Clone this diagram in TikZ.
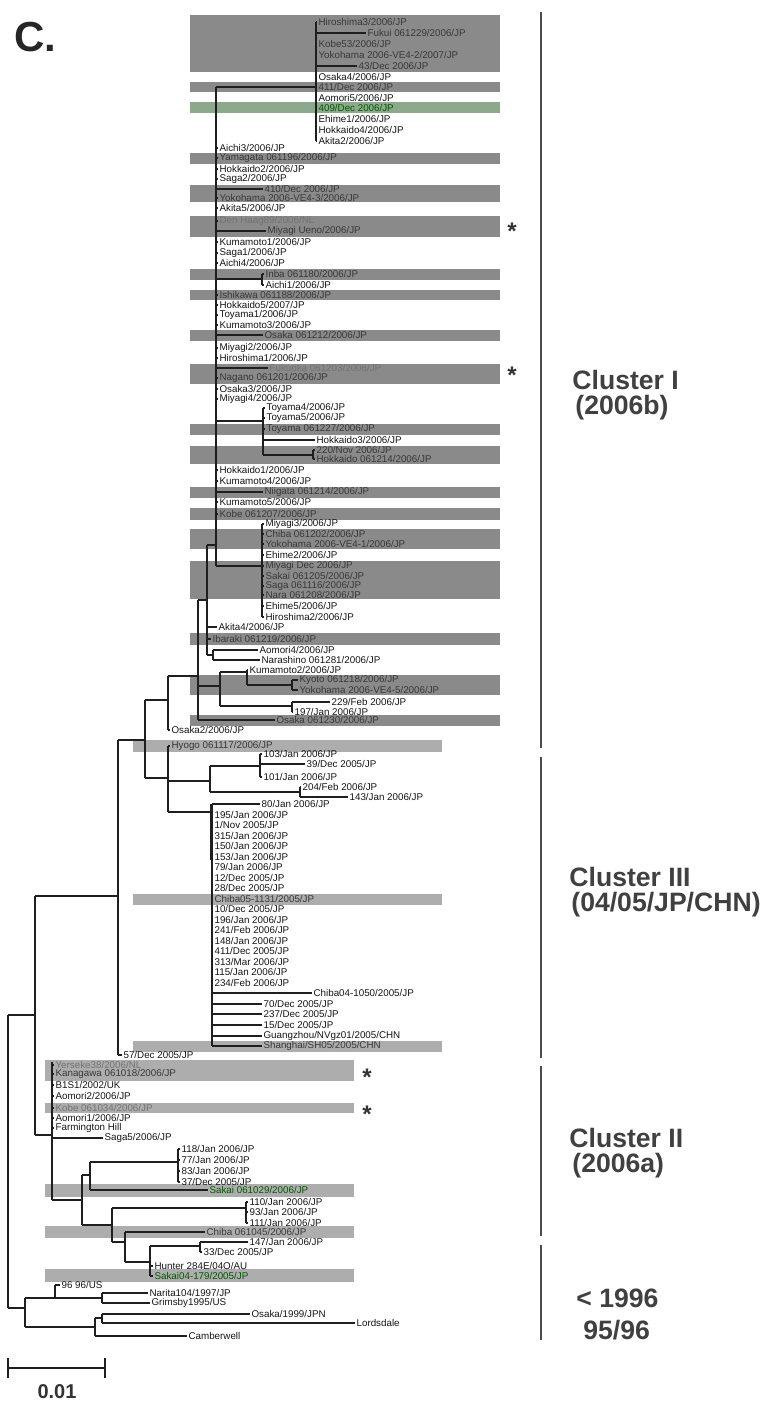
\documentclass[tikz,border=0pt]{standalone}
\usepackage{fontspec}
\setmainfont{Liberation Sans}
\newcommand\Lf[6][lab]{\node[#1] (#2) at (#4,#5) {#6};\draw[br] (#3,#5) -- (#2.west);}
\newcommand\Vt[4][br]{\draw[#1] (#2,#3) -- (#2,#4);}
\newcommand\Hz[4][br]{\draw[#1] (#2,#4) -- (#3,#4);}
\begin{document}
\begin{tikzpicture}[x=0.5pt,y=-0.5pt,
  br/.style={line width=0.65pt,black!88},
  bb/.style={line width=1.2pt,black!88},
  lab/.style={anchor=west,inner xsep=0.6pt,inner ysep=0pt,font=\fontsize{4.9}{5}\selectfont,text=black!92},
  shd/.style={lab,text=black!78},
  shl/.style={lab,text=black!55},
  shg/.style={lab,text=green!35!black},
  bar/.style={fill=black!46},
  barg/.style={fill=green!25!black!45},
  barl/.style={fill=black!32},
  clu/.style={anchor=west,font=\bfseries\fontsize{13.3}{14}\selectfont,text=black!75,inner sep=0pt},
  cline/.style={line width=1.3pt,black!70},
  star/.style={font=\bfseries\fontsize{12}{12}\selectfont,text=black!80,inner sep=0pt}]
\useasboundingbox (0,0) rectangle (765,1403);
% ---------------- shaded bars
\foreach \a/\b in {15/72,82/92,153/164,185/202,216/237,269/280,290/300,330/341,364/384,424/435,446/464,487/498,508/520,529/549,561/599,633/645,675/695,715/726}
  \fill[bar] (190,\a) rectangle (500,\b);
\fill[barg] (190,102) rectangle (500,113);
\foreach \a/\b in {740/752,894/905,1041/1052}
  \fill[barl] (133,\a) rectangle (442,\b);
\foreach \a/\b in {1060/1081,1103/1113,1184/1197,1226/1238,1269/1282}
  \fill[barl] (45,\a) rectangle (354,\b);
% ---------------- title
\node[anchor=north west,inner sep=0pt,font=\bfseries\fontsize{21}{21}\selectfont,text=black!85] (title) at (14,22) {C.};
% ---------------- Cluster I, top comb
\Hz{216}{316}{87}
\Vt[bb]{316}{22}{141}
\Lf[shd]{t1}{316}{317}{22}{Hiroshima3/2006/JP}
\Lf[shd]{t2}{316}{366}{33}{Fukui 061229/2006/JP}
\Lf[shd]{t3}{316}{317}{44}{Kobe53/2006/JP}
\Lf[shd]{t4}{316}{317}{55}{Yokohama 2006-VE4-2/2007/JP}
\Lf[shd]{t5}{316}{357}{66}{43/Dec 2006/JP}
\Lf{t6}{316}{317}{77}{Osaka4/2006/JP}
\Lf[shd]{t7}{316}{317}{87}{411/Dec 2006/JP}
\Lf{t8}{316}{317}{98}{Aomori5/2006/JP}
\Lf[shg]{t9}{316}{317}{108}{409/Dec 2006/JP}
\Lf{t10}{316}{317}{119}{Ehime1/2006/JP}
\Lf{t11}{316}{317}{130}{Hokkaido4/2006/JP}
\Lf{t12}{316}{317}{141}{Akita2/2006/JP}
% ---------------- Cluster I backbone
\Vt[bb]{216}{87}{566}
\Lf{b1}{216}{218}{148}{Aichi3/2006/JP}
\Lf[shd]{b2}{216}{218}{158}{Yamagata 061196/2006/JP}
\Lf{b3}{216}{218}{169}{Hokkaido2/2006/JP}
\Lf{b4}{216}{218}{179}{Saga2/2006/JP}
\Lf[shd]{b5}{216}{263}{189}{410/Dec 2006/JP}
\Lf[shd]{b6}{216}{218}{198}{Yokohama 2006-VE4-3/2006/JP}
\Lf{b7}{216}{218}{208}{Akita5/2006/JP}
\Lf[shl]{b8}{216}{218}{221}{Den Haag89/2006/NL}
\Lf[shd]{b9}{216}{266}{231}{Miyagi Ueno/2006/JP}
\Lf{b10}{216}{218}{242}{Kumamoto1/2006/JP}
\Lf{b11}{216}{218}{253}{Saga1/2006/JP}
\Lf{b12}{216}{218}{263}{Aichi4/2006/JP}
\Hz{216}{262}{279}
\Vt{262}{274}{285}
\Lf[shd]{b13}{262}{264}{274}{Inba 061180/2006/JP}
\Lf{b14}{262}{264}{285}{Aichi1/2006/JP}
\Lf[shd]{b15}{216}{218}{295}{Ishikawa 061188/2006/JP}
\Lf{b16}{216}{218}{305}{Hokkaido5/2007/JP}
\Lf{b17}{216}{218}{315}{Toyama1/2006/JP}
\Lf{b18}{216}{218}{325}{Kumamoto3/2006/JP}
\Lf[shd]{b19}{216}{263}{335}{Osaka 061212/2006/JP}
\Lf{b20}{216}{218}{348}{Miyagi2/2006/JP}
\Lf{b21}{216}{218}{358}{Hiroshima1/2006/JP}
\Lf[shl]{b22}{216}{268}{368}{Fukuoka 061203/2006/JP}
\Lf[shd]{b23}{216}{218}{378}{Nagano 061201/2006/JP}
\Lf{b24}{216}{218}{389}{Osaka3/2006/JP}
\Lf{b25}{216}{218}{399}{Miyagi4/2006/JP}
% subclade Toyama
\Hz{216}{263}{421}
\Vt{263}{408}{455}
\Lf{a1}{263}{265}{408}{Toyama4/2006/JP}
\Lf{a2}{263}{265}{418}{Toyama5/2006/JP}
\Lf[shd]{a3}{263}{265}{429}{Toyama 061227/2006/JP}
\Lf{a4}{263}{315}{440}{Hokkaido3/2006/JP}
\Hz{263}{313}{455}
\Vt{313}{450}{459}
\Lf[shd]{a5}{313}{315}{450}{220/Nov 2006/JP}
\Lf[shd]{a6}{313}{315}{459}{Hokkaido 061214/2006/JP}
\Lf{b26}{216}{218}{470}{Hokkaido1/2006/JP}
\Lf{b27}{216}{218}{481}{Kumamoto4/2006/JP}
\Lf[shd]{b28}{216}{263}{492}{Niigata 061214/2006/JP}
\Lf{b29}{216}{218}{502}{Kumamoto5/2006/JP}
\Lf[shd]{b30}{216}{218}{514}{Kobe 061207/2006/JP}
% subclade Miyagi3
\Hz{216}{262}{566}
\Vt{262}{524}{617}
\Lf{m1}{262}{264}{524}{Miyagi3/2006/JP}
\Lf[shd]{m2}{262}{264}{534}{Chiba 061202/2006/JP}
\Lf[shd]{m3}{262}{264}{544}{Yokohama 2006-VE4-1/2006/JP}
\Lf{m4}{262}{264}{555}{Ehime2/2006/JP}
\Lf[shd]{m5}{262}{264}{566}{Miyagi Dec 2006/JP}
\Lf[shd]{m6}{262}{264}{576}{Sakai 061205/2006/JP}
\Lf[shd]{m7}{262}{264}{586}{Saga 061116/2006/JP}
\Lf[shd]{m8}{262}{264}{595}{Nara 061208/2006/JP}
\Lf{m9}{262}{264}{606}{Ehime5/2006/JP}
\Lf{m10}{262}{264}{617}{Hiroshima2/2006/JP}
% C2
\Vt[bb]{207}{545}{655}
\Hz{207}{216}{545}
\Lf{c1}{207}{217}{627}{Akita4/2006/JP}
\Lf[shd]{c2}{207}{211}{639}{Ibaraki 061219/2006/JP}
\Hz{207}{213}{655}
\Vt{213}{650}{660}
\Lf{c3}{213}{258}{650}{Aomori4/2006/JP}
\Lf{c4}{213}{260}{660}{Narashino 061281/2006/JP}
% C1
\Vt[bb]{198}{600}{720}
\Hz{198}{207}{600}
\Hz{198}{220}{686}
\Vt{220}{672}{706}
\Hz{220}{247}{672}
\Vt{247}{670}{685}
\Lf{k1}{247}{248}{670}{Kumamoto2/2006/JP}
\Hz{247}{292}{685}
\Vt{292}{680}{690}
\Lf[shd]{k2}{292}{298}{680}{Kyoto 061218/2006/JP}
\Lf[shd]{k3}{292}{298}{690}{Yokohama 2006-VE4-5/2006/JP}
\Hz{220}{292}{706}
\Vt{292}{702}{712}
\Lf{k4}{292}{330}{702}{229/Feb 2006/JP}
\Lf{k5}{292}{293}{712}{197/Jan 2006/JP}
\Lf[shd]{k6}{198}{275}{720}{Osaka 061230/2006/JP}
% R, Q
\Vt{168}{676}{730}
\Hz{168}{198}{676}
\Lf{r1}{168}{170}{730}{Osaka2/2006/JP}
\Vt{145}{700}{778}
\Hz{145}{168}{700}
\Hz{145}{168}{778}
% ---------------- Cluster III
\Vt{168}{746}{812}
\Lf[shd]{s1}{168}{170}{746}{Hyogo 061117/2006/JP}
\Hz{168}{210}{781}
\Vt{210}{766}{792}
\Hz{210}{260}{766}
\Vt{260}{754}{777}
\Lf{v1}{260}{262}{754}{103/Jan 2006/JP}
\Lf{v2}{260}{305}{764}{39/Dec 2005/JP}
\Lf{v3}{260}{262}{777}{101/Jan 2006/JP}
\Hz{210}{300}{792}
\Vt{300}{787}{797}
\Lf{w1}{300}{301}{787}{204/Feb 2006/JP}
\Lf{w2}{300}{348}{797}{143/Jan 2006/JP}
\Hz{168}{212}{812}
\Vt{212}{804}{1046}
\Vt[bb]{211}{804}{860}
\Lf{u0}{212}{260}{804}{80/Jan 2006/JP}
\foreach \y/\t [count=\i] in {815/{195/Jan 2006/JP},825/{1/Nov 2005/JP},836/{315/Jan 2006/JP},846/{150/Jan 2006/JP},857/{153/Jan 2006/JP},867/{79/Jan 2006/JP},878/{12/Dec 2005/JP},888/{28/Dec 2005/JP},909/{10/Dec 2005/JP},920/{196/Jan 2006/JP},930/{241/Feb 2006/JP},941/{148/Jan 2006/JP},951/{411/Dec 2005/JP},962/{313/Mar 2006/JP},972/{115/Jan 2006/JP},983/{234/Feb 2006/JP}}
  {\Lf{u\i}{212}{213}{\y}{\t}}
\Lf[shd]{u20}{212}{213}{899}{Chiba05-1131/2005/JP}
\Lf{u21}{212}{312}{993}{Chiba04-1050/2005/JP}
\Lf{u22}{212}{262}{1004}{70/Dec 2005/JP}
\Lf{u23}{212}{262}{1014}{237/Dec 2005/JP}
\Lf{u24}{212}{262}{1025}{15/Dec 2005/JP}
\Lf{u25}{212}{262}{1036}{Guangzhou/NVgz01/2005/CHN}
\Lf[shd]{u26}{212}{262}{1046}{Shanghai/SH05/2005/CHN}
% Y, X, root
\Vt{118}{740}{1055}
\Hz{118}{145}{740}
\Lf{y1}{118}{122}{1055}{57/Dec 2005/JP}
\Vt{35}{896}{1135}
\Hz{35}{118}{896}
\Vt{8}{1015}{1308}
\Hz{8}{35}{1015}
% ---------------- Cluster II
\Hz{35}{52}{1135}
\Vt[bb]{52}{1062}{1200}
\Lf[shl]{e1}{52}{54}{1065}{Yerseke38/2006/NL}
\Lf[shd]{e2}{52}{54}{1074}{Kanagawa 061018/2006/JP}
\Lf{e3}{52}{54}{1085}{B1S1/2002/UK}
\Lf{e4}{52}{54}{1096}{Aomori2/2006/JP}
\Lf[shl]{e5}{52}{54}{1108}{Kobe 061034/2006/JP}
\Lf{e6}{52}{54}{1118}{Aomori1/2006/JP}
\Lf{e7}{52}{54}{1128}{Farmington Hill}
\Lf{e8}{52}{103}{1138}{Saga5/2006/JP}
\Hz{52}{82}{1200}
\Vt{82}{1175}{1225}
\Hz{82}{90}{1175}
\Vt{90}{1162}{1190}
\Hz{90}{178}{1162}
\Vt{178}{1149}{1182}
\Lf{f1}{178}{180}{1149}{118/Jan 2006/JP}
\Lf{f2}{178}{180}{1160}{77/Jan 2006/JP}
\Lf{f3}{178}{180}{1171}{83/Jan 2006/JP}
\Lf{f4}{178}{180}{1182}{37/Dec 2005/JP}
\Lf[shg]{f5}{90}{208}{1190}{Sakai 061029/2006/JP}
\Hz{82}{112}{1225}
\Vt{112}{1208}{1242}
\Hz{112}{246}{1208}
\Vt{246}{1202}{1223}
\Lf{g1}{246}{248}{1202}{110/Jan 2006/JP}
\Lf{g2}{246}{248}{1212}{93/Jan 2006/JP}
\Lf{g3}{246}{248}{1223}{111/Jan 2006/JP}
\Hz{112}{125}{1242}
\Vt{125}{1232}{1262}
\Lf[shd]{g4}{125}{205}{1232}{Chiba 061045/2006/JP}
\Hz{125}{150}{1262}
\Vt{150}{1246}{1276}
\Hz{150}{200}{1246}
\Vt{200}{1242}{1252}
\Lf{h1}{200}{248}{1242}{147/Jan 2006/JP}
\Lf{h2}{200}{202}{1252}{33/Dec 2005/JP}
\Lf{h3}{150}{153}{1266}{Hunter 284E/04O/AU}
\Lf[shg]{h4}{150}{153}{1276}{Sakai04-179/2005/JP}
% ---------------- outgroup
\Hz{8}{25}{1308}
\Vt{25}{1298}{1327}
\Hz{25}{55}{1298}
\Vt{55}{1285}{1298}
\Lf{o1}{55}{60}{1285}{96 96/US}
\Hz{55}{102}{1298}
\Vt{102}{1293}{1303}
\Lf{o2}{102}{148}{1293}{Narita104/1997/JP}
\Lf{o3}{102}{150}{1303}{Grimsby1995/US}
\Hz{25}{95}{1327}
\Vt{95}{1318}{1336}
\Hz{95}{102}{1318}
\Vt{102}{1314}{1323}
\Lf{o4}{102}{250}{1314}{Osaka/1999/JPN}
\Lf{o5}{102}{355}{1323}{Lordsdale}
\Lf{o6}{95}{187}{1336}{Camberwell}
% ---------------- stars
\node[star] (st1) at (512,231) {*};
\node[star] (st2) at (512,375) {*};
\node[star] (st3) at (367,1077) {*};
\node[star] (st4) at (367,1114) {*};
% ---------------- cluster bars and labels
\coordinate (k1t) at (541,12);   \coordinate (k1b) at (541,748);
\coordinate (k2t) at (541,757);  \coordinate (k2b) at (541,1058);
\coordinate (k3t) at (541,1066); \coordinate (k3b) at (541,1236);
\coordinate (k4t) at (541,1245); \coordinate (k4b) at (541,1340);
\draw[cline] (k1t) -- (k1b);
\draw[cline] (k2t) -- (k2b);
\draw[cline] (k3t) -- (k3b);
\draw[cline] (k4t) -- (k4b);
\node[clu] (cl1) at (572,380) {Cluster I};
\node[clu] (cl1b) at (575,408) {(2006b)};
\node[clu] (cl3) at (569,877) {Cluster III};
\node[clu] (cl3b) at (571,905) {(04/05/JP/CHN)};
\node[clu] (cl2) at (569,1138) {Cluster II};
\node[clu] (cl2b) at (572,1166) {(2006a)};
\node[clu] (cl4) at (576,1298) {< 1996};
\node[clu] (cl4b) at (583,1330) {95/96};
% ---------------- scale bar
\coordinate (sbl) at (8,1368); \coordinate (sbr) at (105,1368);
\draw[br,line width=0.7pt] (sbl) -- (sbr);
\draw[br,line width=0.7pt] (8,1358) -- (8,1378);
\draw[br,line width=0.7pt] (105,1358) -- (105,1378);
\node[font=\bfseries\fontsize{10}{10}\selectfont,text=black!80,inner sep=0pt] (sbt) at (57,1392) {0.01};
\end{tikzpicture}
\end{document}
